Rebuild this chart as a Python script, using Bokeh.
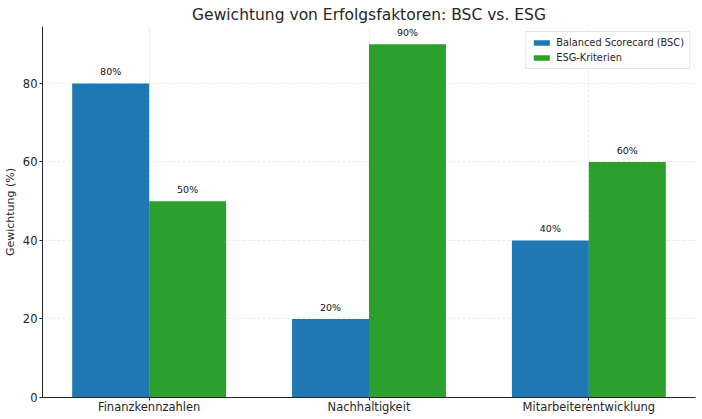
from bokeh.plotting import figure
from bokeh.models import ColumnDataSource, Range1d, FixedTicker, Legend, LegendItem, LabelSet
from bokeh.core.properties import value
from bokeh.embed import file_html
from bokeh.resources import INLINE

categories = ["Finanzkennzahlen", "Nachhaltigkeit", "Mitarbeiterentwicklung"]
bsc_values = [80, 20, 40]
esg_values = [50, 90, 60]
series_names = ["Balanced Scorecard (BSC)", "ESG-Kriterien"]
y_ticks = [0, 20, 40, 60, 80]

bar_width = 0.35
idx = list(range(len(categories)))

src_bsc = ColumnDataSource(dict(
    x=[i - bar_width / 2 for i in idx], top=bsc_values,
    label=[f"{v}%" for v in bsc_values]))
src_esg = ColumnDataSource(dict(
    x=[i + bar_width / 2 for i in idx], top=esg_values,
    label=[f"{v}%" for v in esg_values]))

FONT = "DejaVu Sans"

p = figure(width=702, height=419, output_backend="svg", toolbar_location=None,
           x_range=Range1d(-0.485, 2.485), y_range=Range1d(0, 94.5),
           min_border_left=41, min_border_right=7, min_border_top=25, min_border_bottom=22)

p.title.text = "Gewichtung von Erfolgsfaktoren: BSC vs. ESG"
p.title.align = "center"
p.title.text_font = FONT
p.title.text_font_size = "15.5px"
p.title.text_font_style = "normal"
p.title.text_color = "#262626"
p.title.offset = 0
p.title.standoff = 6

r1 = p.vbar(x="x", top="top", width=bar_width, source=src_bsc, color="#1f77b4", line_color=None)
r2 = p.vbar(x="x", top="top", width=bar_width, source=src_esg, color="#2ca02c", line_color=None)

for s in (src_bsc, src_esg):
    p.add_layout(LabelSet(x="x", y="top", text="label", source=s, text_align="center",
                          text_baseline="bottom", y_offset=6, text_font=value(FONT),
                          text_font_size="9.5px", text_color="#111111"))

p.xaxis.ticker = FixedTicker(ticks=idx)
p.xaxis.major_label_overrides = {i: c for i, c in zip(idx, categories)}
p.yaxis.ticker = FixedTicker(ticks=y_ticks)
p.yaxis.axis_label = "Gewichtung (%)"

for ax in (p.xaxis[0], p.yaxis[0]):
    ax.major_label_text_font = FONT
    ax.major_label_text_font_size = "11.5px"
    ax.major_label_text_color = "#262626"
    ax.axis_label_text_font = FONT
    ax.axis_label_text_font_size = "11px"
    ax.axis_label_text_font_style = "normal"
    ax.axis_label_text_color = "#262626"
    ax.axis_line_color = "#262626"
    ax.major_tick_line_color = "#262626"
    ax.major_tick_out = 3
    ax.major_tick_in = 0
    ax.minor_tick_line_color = None
    ax.major_label_standoff = 2
p.xaxis.major_label_standoff = -1
p.yaxis.axis_label_standoff = 3

p.grid.grid_line_color = "#cccccc"
p.grid.grid_line_dash = "3 2"
p.grid.grid_line_alpha = 0.7
p.grid.grid_line_width = 0.6
p.xgrid.ticker = FixedTicker(ticks=idx)
p.ygrid.ticker = FixedTicker(ticks=y_ticks)
p.outline_line_color = None

legend = Legend(items=[LegendItem(label=series_names[0], renderers=[r1]),
                       LegendItem(label=series_names[1], renderers=[r2])],
                location="top_right")
legend.label_text_font = FONT
legend.label_text_font_size = "9.8px"
legend.label_text_color = "#262626"
legend.glyph_width = 20
legend.glyph_height = 7
legend.label_height = 10
legend.spacing = 4
legend.padding = 5
legend.margin = 5
legend.border_line_color = "#cccccc"
legend.background_fill_alpha = 0.9
p.add_layout(legend)

open("out.html", "w").write(file_html(p, INLINE))
